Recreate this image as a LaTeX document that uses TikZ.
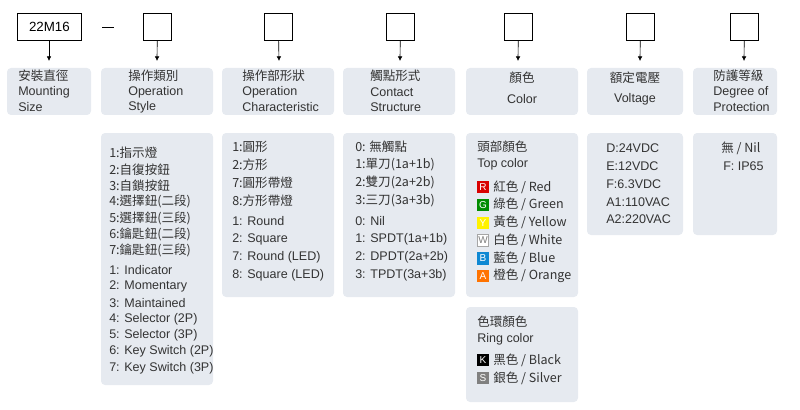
\documentclass[tikz,border=0pt]{standalone}
\usepackage{fontspec}
\setmainfont{Liberation Sans}
\newfontfamily\cjk{Noto Sans CJK TC}
\begin{document}
\begin{tikzpicture}[x=0.75pt,y=-0.75pt,
  panel/.style={fill=panelc,rounded corners=3pt,draw=none},
  codebox/.style={draw=black,line width=0.6pt,minimum width=21pt,minimum height=20pt,inner sep=0pt},
  arr/.style={-{Latex[length=3.5pt,width=3.5pt]},line width=0.5pt},
  txt/.style={anchor=west,inner sep=0pt,font=\fontsize{9.4}{10}\selectfont,text=txtc},
  ctxt/.style={anchor=center,inner sep=0pt,font=\fontsize{9.4}{10}\selectfont,text=txtc},
  sq/.style={anchor=center,minimum width=8.5pt,minimum height=8.5pt,inner sep=0pt,font=\fontsize{7.5}{8}\selectfont}]
\usetikzlibrary{arrows.meta}
\definecolor{panelc}{HTML}{E6EAF0}
\definecolor{txtc}{HTML}{333333}
\useasboundingbox (0,0) rectangle (800,410);
% code boxes
\node[codebox,minimum width=48pt,anchor=north west,font=\fontsize{10}{11}\selectfont] (b1) at (17,13) {22M16};
\node[inner sep=0pt] (dash) at (108,27) {\rule{9pt}{0.6pt}};
\node[codebox,anchor=north west] (b2) at (143,13) {};
\node[codebox,anchor=north west] (b3) at (264,13) {};
\node[codebox,anchor=north west] (b4) at (386,13) {};
\node[codebox,anchor=north west] (b5) at (504,13) {};
\node[codebox,anchor=north west] (b6) at (626,13) {};
\node[codebox,anchor=north west] (b7) at (730,13) {};
% header panels
\path[panel] (7,68) rectangle (91,115);
\path[panel] (101,68) rectangle (213,115);
\path[panel] (222,68) rectangle (334,115);
\path[panel] (343,68) rectangle (455,115);
\path[panel] (466,68) rectangle (578,115);
\path[panel] (587,68) rectangle (683,115);
\path[panel] (693,68) rectangle (777,115);
\coordinate (h1) at (49,61); \coordinate (h2) at (157,61); \coordinate (h3) at (279,61);
\coordinate (h4) at (400,61); \coordinate (h5) at (518,61); \coordinate (h6) at (640,61); \coordinate (h7) at (744,61);
\draw[arr] (b1.south -| h1) -- (h1);
\draw[arr] (b2) -- (h2);
\draw[arr] (b3) -- (h3);
\draw[arr] (b4) -- (h4);
\draw[arr] (b5) -- (h5);
\draw[arr] (b6) -- (h6);
\draw[arr] (b7) -- (h7);
% header texts
\node[txt] (t1a) at (18,76) {\cjk 安裝直徑};
\node[txt] (t1b) at (18,92) {Mounting};
\node[txt] (t1c) at (18,107) {Size};
\node[txt] (t2a) at (128,76) {\cjk 操作類別};
\node[txt] (t2b) at (128,92) {Operation};
\node[txt] (t2c) at (128,107) {Style};
\node[txt] (t3a) at (242,76) {\cjk 操作部形狀};
\node[txt] (t3b) at (242,92) {Operation};
\node[txt] (t3c) at (242,107) {Characteristic};
\node[txt] (t4a) at (370,76) {\cjk 觸點形式};
\node[txt] (t4b) at (370,92) {Contact};
\node[txt] (t4c) at (370,107) {Structure};
\node[ctxt] (t5a) at (522,78) {\cjk 顏色};
\node[ctxt] (t5b) at (522,99) {Color};
\node[ctxt] (t6a) at (635,78) {\cjk 額定電壓};
\node[ctxt] (t6b) at (635,99) {Voltage};
\node[txt] (t7a) at (713,76) {\cjk 防護等級};
\node[txt] (t7b) at (713,92) {Degree of};
\node[txt] (t7c) at (713,107) {Protection};
% lower panels
\path[panel] (101,133) rectangle (213,385);
\path[panel] (222,133) rectangle (334,297);
\path[panel] (343,133) rectangle (455,297);
\path[panel] (466,133) rectangle (578,297);
\path[panel] (466,307) rectangle (578,402);
\path[panel] (587,133) rectangle (683,235);
\path[panel] (693,133) rectangle (777,235);
% col2
\foreach \t [count=\i] in {1:指示燈,2:自復按鈕,3:自鎖按鈕,4:選擇鈕(二段),5:選擇鈕(三段),6:鑰匙鈕(二段),7:鑰匙鈕(三段)}
  \node[txt] (c2a\i) at (109,{153+16.3*(\i-1)}) {\cjk \t};
\foreach \t [count=\i] in {1: Indicator,2: Momentary,3: Maintained,4: Selector (2P),5: Selector (3P),6: Key Switch (2P),7: Key Switch (3P)}
  \node[txt] (c2b\i) at (109,{270+16.3*(\i-1)}) {\t};
% col3
\foreach \t [count=\i] in {1:圓形,2:方形,7:圓形帶燈,8:方形帶燈}
  \node[txt] (c3a\i) at (232,{147+17.8*(\i-1)}) {\cjk \t};
\foreach \t [count=\i] in {1: Round,2: Square,7: Round (LED),8: Square (LED)}
  \node[txt] (c3b\i) at (232,{221+18*(\i-1)}) {\t};
% col4
\foreach \t [count=\i] in {0: 無觸點,1:單刀(1a+1b),2:雙刀(2a+2b),3:三刀(3a+3b)}
  \node[txt] (c4a\i) at (355,{147+17.8*(\i-1)}) {\cjk \t};
\foreach \t [count=\i] in {0: Nil,1: SPDT(1a+1b),2: DPDT(2a+2b),3: TPDT(3a+3b)}
  \node[txt] (c4b\i) at (355,{221+18*(\i-1)}) {\t};
% col5
\node[txt] (c5h1) at (477,147) {\cjk 頭部顏色};
\node[txt] (c5h2) at (477,164) {Top color};
\foreach \l/\c/\d/\tc/\t [count=\i] in {R/red!85!black/red!85!black/white/{紅色 / Red},G/green!55!black/green!55!black/white/{綠色 / Green},Y/yellow/yellow/white/{黃色 / Yellow},W/white/gray!70/gray/{白色 / White},B/cyan!70!blue/cyan!70!blue/white/{藍色 / Blue},A/orange!90!red/orange!90!red/white/{橙色 / Orange}}{
  \node[sq,fill=\c,draw=\d,text=\tc] (s\i) at (483,{187+17.8*(\i-1)}) {\l};
  \node[txt] (c5t\i) at (493,{187+17.8*(\i-1)}) {\cjk \t};}
\node[txt] (c5r1) at (477,322) {\cjk 色環顏色};
\node[txt] (c5r2) at (477,339) {Ring color};
\node[sq,fill=black,text=white] (k) at (483,360) {K};
\node[txt] (c5k) at (493,360) {\cjk 黑色 / Black};
\node[sq,fill=gray,text=white] (s) at (483,378) {S};
\node[txt] (c5s) at (493,378) {\cjk 銀色 / Silver};
% col6
\foreach \t [count=\i] in {D:24VDC,E:12VDC,F:6.3VDC,A1:110VAC,A2:220VAC}
  \node[txt] (c6\i) at (606,{148+17.9*(\i-1)}) {\t};
% col7
\node[txt] (c71) at (721,148) {\cjk 無 / Nil};
\node[txt] (c72) at (723,166) {F: IP65};
\end{tikzpicture}
\end{document}
